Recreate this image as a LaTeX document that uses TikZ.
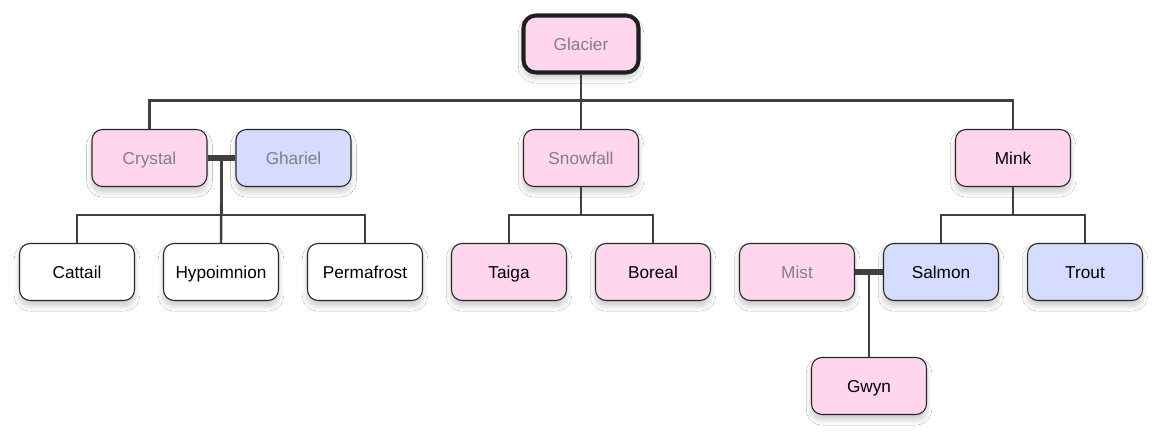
\documentclass[tikz,border=0pt]{standalone}
\usepackage{fontspec}
\setmainfont{Liberation Sans}
\usepackage{xcolor}
\usetikzlibrary{shadows.blur}

\definecolor{pinkfill}{HTML}{FFD6EE}
\definecolor{bluefill}{HTML}{D6DCFF}
\definecolor{linkgray}{HTML}{404040}
\definecolor{dimtext}{HTML}{808080}

\tikzset{
  person/.style={draw=black!85, line width=0.6pt, rounded corners=6pt,
    minimum width=2.3cm, minimum height=1.14cm, inner sep=0pt,
    text height=7pt, text depth=0pt,
    font=\fontsize{9.8}{12}\selectfont,
    blur shadow={shadow xshift=0pt, shadow yshift=-3pt, shadow blur radius=3pt,
      shadow blur steps=15, shadow opacity=22}},
  pinkbox/.style={person, fill=pinkfill},
  bluebox/.style={person, fill=bluefill},
  whitebox/.style={person, fill=white},
  faded/.style={text=dimtext},
  link/.style={draw=linkgray, line width=1.4pt},
  couple/.style={draw=linkgray, line width=3.4pt}
}

\begin{document}
\begin{tikzpicture}[x=0.02cm, y=-0.02cm]
		\useasboundingbox[fill=white] (0,0) rectangle (1169,448);
		% top
		\node[pinkbox, faded, line width=2.3pt, draw=black!88, rounded corners=7pt] (glacier) at (581,44) {Glacier};
		% second row
		\node[pinkbox, faded] (crystal) at (149.5,158) {Crystal};
		\node[bluebox, faded] (ghariel) at (293.5,158) {Ghariel};
		\node[pinkbox, faded] (snowfall) at (581,158) {Snowfall};
		\node[pinkbox] (mink) at (1013,158) {Mink};
		% third row
		\node[whitebox] (cattail) at (77,272) {Cattail};
		\node[whitebox] (hypoimnion) at (221,272) {Hypoimnion};
		\node[whitebox] (permafrost) at (365,272) {Permafrost};
		\node[pinkbox] (taiga) at (509,272) {Taiga};
		\node[pinkbox] (boreal) at (653,272) {Boreal};
		\node[pinkbox, faded] (mist) at (797,272) {Mist};
		\node[bluebox] (salmon) at (941,272) {Salmon};
		\node[bluebox] (trout) at (1085,272) {Trout};
		% bottom
		\node[pinkbox] (gwyn) at (869,386) {Gwyn};

		% glacier to children
		\draw[link] (glacier.south) -- ++(0,26) -| (crystal.north);
		\draw[link] (glacier.south) -- ++(0,26) -| (mink.north);
		\draw[link] (glacier.south) -- (snowfall.north);
		% crystal + ghariel
		\draw[couple] (crystal.east) -- coordinate (cg) (ghariel.west);
		\draw[link] (cg) -- ++(0,57) -| (cattail.north);
		\draw[link] (cg) -- ++(0,57) -| (permafrost.north);
		\draw[link] (cg) -- (hypoimnion.north);
		% snowfall
		\draw[link] (snowfall.south) -- ++(0,28) -| (taiga.north);
		\draw[link] (snowfall.south) -- ++(0,28) -| (boreal.north);
		% mink
		\draw[link] (mink.south) -- ++(0,28) -| (salmon.north);
		\draw[link] (mink.south) -- ++(0,28) -| (trout.north);
		% mist + salmon
		\draw[couple] (mist.east) -- coordinate (ms) (salmon.west);
		\draw[link] (ms) -- (gwyn.north);
\end{tikzpicture}
\end{document}
